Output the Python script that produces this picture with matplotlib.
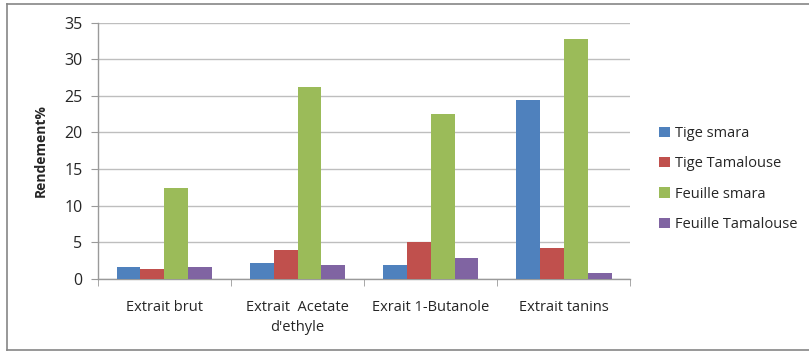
import matplotlib
matplotlib.use("Agg")
import matplotlib.pyplot as plt
import numpy as np
from matplotlib.lines import Line2D

categories = ["Extrait brut", "Extrait  Acetate\nd'ethyle", "Exrait 1-Butanole", "Extrait tanins"]
series_names = ["Tige smara", "Tige Tamalouse", "Feuille smara", "Feuille Tamalouse"]
tige_smara = [1.7, 2.15, 1.85, 24.4]
tige_tamalouse = [1.3, 3.95, 5.05, 4.2]
feuille_smara = [12.4, 26.15, 22.5, 32.8]
feuille_tamalouse = [1.7, 1.9, 2.8, 0.8]
colors = ["#4F81BD", "#C0504D", "#9BBB59", "#8064A2"]

plt.rcParams["font.family"] = ["Open Sans", "DejaVu Sans"]

fig = plt.figure(figsize=(8.09, 3.52), dpi=100)
# outer frame: left, top and bottom edges
frame_kw = dict(transform=fig.transFigure, color="#868686", linewidth=1.2)
fig.add_artist(Line2D([0.009, 0.009], [0.006, 0.989], **frame_kw))
fig.add_artist(Line2D([0.009, 1.0], [0.989, 0.989], **frame_kw))
fig.add_artist(Line2D([0.009, 1.0], [0.006, 0.006], **frame_kw))

ax = fig.add_axes([0.121, 0.2074, 0.658, 0.7286])

x = np.arange(len(categories))
width = 0.18
all_series = [tige_smara, tige_tamalouse, feuille_smara, feuille_tamalouse]
for i, (vals, name, c) in enumerate(zip(all_series, series_names, colors)):
    ax.bar(x + (i - 1.5) * width, vals, width, color=c, label=name, zorder=3)

ax.set_xlim(-0.5, len(categories) - 0.5)
ax.set_ylim(0, 35)
ax.set_yticks(np.arange(0, 36, 5))
ax.yaxis.grid(True, color="#BEBEBE", linewidth=1.0, zorder=0)
ax.set_axisbelow(True)

for s in ["top", "right"]:
    ax.spines[s].set_visible(False)
for s in ["left", "bottom"]:
    ax.spines[s].set_color("#9A9A9A")
    ax.spines[s].set_linewidth(1.0)

ax.set_xticks(x)
ax.set_xticklabels(categories, fontsize=10.5, color="#262626", linespacing=1.45)
ax.tick_params(axis="x", length=0, pad=15)
ax.set_xticks(np.arange(-0.5, len(categories), 1.0), minor=True)
ax.tick_params(axis="x", which="minor", length=5, color="#9A9A9A", direction="out")
ax.tick_params(axis="y", length=5, color="#9A9A9A", labelsize=11.5, labelcolor="#262626", pad=6)

ax.set_ylabel("Rendement%", fontsize=10, fontweight="bold", color="#262626", labelpad=12)

ax.legend(loc="center left", bbox_to_anchor=(1.03, 0.39), frameon=False, fontsize=10.5,
          handlelength=0.7, handleheight=0.7, handletextpad=0.4, labelspacing=1.05,
          labelcolor="#262626")

fig.savefig("out.png", dpi=100)
